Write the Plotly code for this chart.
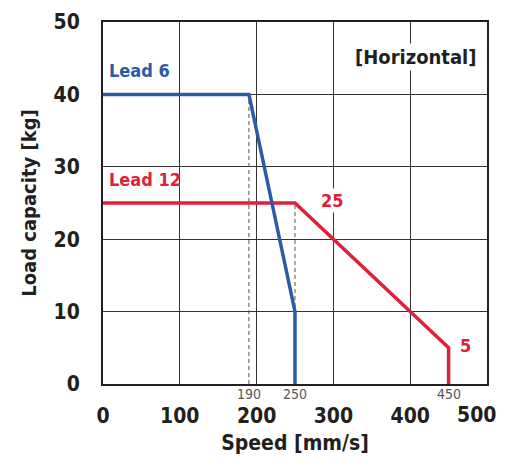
import plotly.graph_objects as go

speed_lead6 = [0, 190, 250, 250]
load_lead6 = [40, 40, 10, 0]
speed_lead12 = [0, 250, 450, 450]
load_lead12 = [25, 25, 5, 0]
guide_speed = [190, 250]
guide_load = [40, 25]
marked_speed = [190, 250, 450]
x_ticks = [0, 100, 200, 300, 400, 500]
y_ticks = [0, 10, 20, 30, 40, 50]

BLUE = "#2a5aa8"
RED = "#e0203a"
INK = "#231f20"
FONT = "DejaVu Sans Condensed, sans-serif"

fig = go.Figure()

for gx, gy in zip(guide_speed, guide_load):
    fig.add_trace(go.Scatter(
        x=[gx, gx], y=[0, gy], mode="lines",
        line=dict(color="#555555", width=1, dash="4px,3px"),
        hoverinfo="skip",
    ))

fig.add_trace(go.Scatter(x=speed_lead12, y=load_lead12, mode="lines",
                         line=dict(color=RED, width=3.5), name="Lead 12"))
fig.add_trace(go.Scatter(x=speed_lead6, y=load_lead6, mode="lines",
                         line=dict(color=BLUE, width=3.5), name="Lead 6"))

annotations = [
    dict(x=5, y=40, text="<b>Lead 6</b>", xanchor="left", yanchor="bottom", yshift=11,
         font=dict(color=BLUE, size=18)),
    dict(x=5, y=25, text="<b>Lead 12</b>", xanchor="left", yanchor="bottom", yshift=11,
         font=dict(color=RED, size=18)),
    dict(x=250, y=25, text="<b>25</b>", xanchor="left", yanchor="bottom", xshift=24, yshift=-10,
         font=dict(color=RED, size=18), bgcolor="white"),
    dict(x=450, y=5, text="<b>5</b>", xanchor="left", yanchor="middle", xshift=9, yshift=2,
         font=dict(color=RED, size=18)),
    dict(x=488, y=45, text="<b>[Horizontal]</b>", xanchor="right", yanchor="middle", yshift=1,
         font=dict(color=INK, size=20), bgcolor="white"),
    # last x tick label sits a little left of its gridline so it stays on the page
    dict(x=x_ticks[-1], y=0, text="<b>%d</b>" % x_ticks[-1], xanchor="right", yanchor="middle",
         xshift=11, yshift=-31, font=dict(color=INK, size=21)),
]
for sx in marked_speed:
    annotations.append(dict(x=sx, y=0, text=str(sx), yanchor="top", yshift=0,
                            font=dict(color="#555555", size=14)))
for a in annotations:
    a.setdefault("showarrow", False)
    a.setdefault("xref", "x")
    a.setdefault("yref", "y")

# the page body adds an 8px margin all round, so the figure is sized to fit inside it
fig.update_layout(
    width=499, height=455,
    margin=dict(l=95, r=20, t=14, b=79),
    paper_bgcolor="white", plot_bgcolor="white",
    showlegend=False,
    font=dict(family=FONT, color=INK),
    annotations=annotations,
)
fig.update_xaxes(
    range=[0, 500], tickvals=x_ticks, ticktext=[str(v) for v in x_ticks[:-1]] + [""],
    ticks="", ticklabelstandoff=12,
    tickfont=dict(size=21, weight="bold"), automargin=False,
    showgrid=True, gridcolor="#333333", gridwidth=1,
    showline=True, linecolor=INK, linewidth=2, mirror=True, zeroline=False,
    title=dict(text="<b>Speed [mm/s]</b>", font=dict(size=21), standoff=8),
)
fig.update_yaxes(
    range=[0, 50], tickvals=y_ticks, ticks="", ticklabelstandoff=17,
    tickfont=dict(size=21, weight="bold"), automargin=False, ticklabeloverflow="allow",
    showgrid=True, gridcolor="#333333", gridwidth=1,
    showline=True, linecolor=INK, linewidth=2, mirror=True, zeroline=False,
    title=dict(text="<b>Load capacity [kg]</b>", font=dict(size=20), standoff=12),
)

fig.write_html("out.html")
